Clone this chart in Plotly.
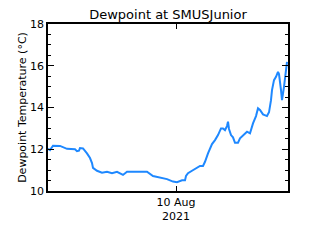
import plotly.graph_objects as go

times = [
    "2021-08-06 19:12", "2021-08-06 20:24", "2021-08-06 22:12", "2021-08-07 02:24",
    "2021-08-07 06:36", "2021-08-07 11:24", "2021-08-07 12:36", "2021-08-07 13:48",
    "2021-08-07 14:24", "2021-08-07 16:12", "2021-08-07 18:36", "2021-08-07 20:24",
    "2021-08-07 21:36", "2021-08-07 22:12", "2021-08-08 00:36", "2021-08-08 03:36",
    "2021-08-08 06:36", "2021-08-08 09:36", "2021-08-08 12:36", "2021-08-08 16:12",
    "2021-08-08 18:36", "2021-08-09 00:36", "2021-08-09 06:36", "2021-08-09 10:12",
    "2021-08-09 14:24", "2021-08-09 18:36", "2021-08-09 22:12", "2021-08-10 00:36",
    "2021-08-10 03:36", "2021-08-10 05:24", "2021-08-10 06:00", "2021-08-10 07:12",
    "2021-08-10 09:36", "2021-08-10 12:36", "2021-08-10 14:24", "2021-08-10 16:12",
    "2021-08-10 17:24", "2021-08-10 19:12", "2021-08-10 21:36", "2021-08-10 23:24",
    "2021-08-11 01:12", "2021-08-11 03:00", "2021-08-11 04:12", "2021-08-11 05:24",
    "2021-08-11 06:36", "2021-08-11 07:12", "2021-08-11 07:48", "2021-08-11 09:00",
    "2021-08-11 10:12", "2021-08-11 11:24", "2021-08-11 13:12", "2021-08-11 14:24",
    "2021-08-11 16:12", "2021-08-11 18:36", "2021-08-11 20:24", "2021-08-11 21:36",
    "2021-08-11 22:12", "2021-08-12 00:00", "2021-08-12 01:12", "2021-08-12 02:24",
    "2021-08-12 04:12", "2021-08-12 06:36", "2021-08-12 07:48", "2021-08-12 09:00",
    "2021-08-12 09:36", "2021-08-12 10:48", "2021-08-12 12:00", "2021-08-12 13:12",
    "2021-08-12 13:48", "2021-08-12 15:00", "2021-08-12 15:36", "2021-08-12 16:48",
    "2021-08-12 18:00", "2021-08-12 18:36",
]
dewpoint = [
    12.02, 11.96, 12.17, 12.16,
    12.02, 12.00, 11.91, 11.93,
    12.06, 12.04, 11.80, 11.58,
    11.34, 11.11, 10.97, 10.88,
    10.92, 10.85, 10.92, 10.77,
    10.92, 10.92, 10.92, 10.72,
    10.65, 10.57, 10.45, 10.42,
    10.51, 10.51, 10.72, 10.85,
    10.97, 11.11, 11.20, 11.20,
    11.40, 11.80, 12.25, 12.44,
    12.68, 13.00, 13.00, 12.92,
    13.11, 13.32, 12.97, 12.68,
    12.57, 12.31, 12.31, 12.52,
    12.68, 12.84, 12.76, 13.08,
    13.24, 13.59, 13.96, 13.88,
    13.67, 13.59, 13.77, 14.35,
    14.83, 15.31, 15.47, 15.71,
    15.60, 14.83, 14.35, 14.99,
    15.79, 16.19,
]

x_range = ["2021-08-06 19:12", "2021-08-12 19:12"]
y_range = [10, 18]
x_tickvals = ["2021-08-10 00:00"]
x_ticktext = ["10 Aug<br>2021"]
y_tickvals = [10, 12, 14, 16, 18]

fig = go.Figure()
fig.add_trace(go.Scatter(
    x=times, y=dewpoint, mode="lines",
    line=dict(color="#1e88ff", width=2),
    showlegend=False, hoverinfo="skip",
))

font = dict(family="DejaVu Sans", size=11, color="black")
fig.update_layout(
    width=320, height=240,
    margin=dict(l=48, r=32, t=24, b=49),
    paper_bgcolor="white", plot_bgcolor="white",
    font=font,
    title=dict(text="Dewpoint at SMUSJunior", x=0.525, xanchor="center",
               y=0.94, yanchor="middle", font=dict(size=13, family="DejaVu Sans")),
    xaxis=dict(range=x_range, tickvals=x_tickvals, ticktext=x_ticktext,
               ticks="inside", ticklen=5, tickcolor="black", showgrid=False,
               showline=True, linecolor="black", linewidth=1.5, mirror="ticks",
               zeroline=False, tickfont=dict(size=11)),
    yaxis=dict(range=y_range, tickvals=y_tickvals, ticks="inside", ticklen=6,
               tickcolor="black", showgrid=False, showline=True, linecolor="black",
               linewidth=1.5, mirror="ticks", zeroline=False,
               minor=dict(dtick=0.5, ticks="inside", ticklen=3, tickcolor="black", showgrid=False),
               title=dict(text="Dewpoint Temperature (°C)", standoff=1, font=dict(size=11)),
               tickfont=dict(size=11)),
)
fig.write_html("out.html")
